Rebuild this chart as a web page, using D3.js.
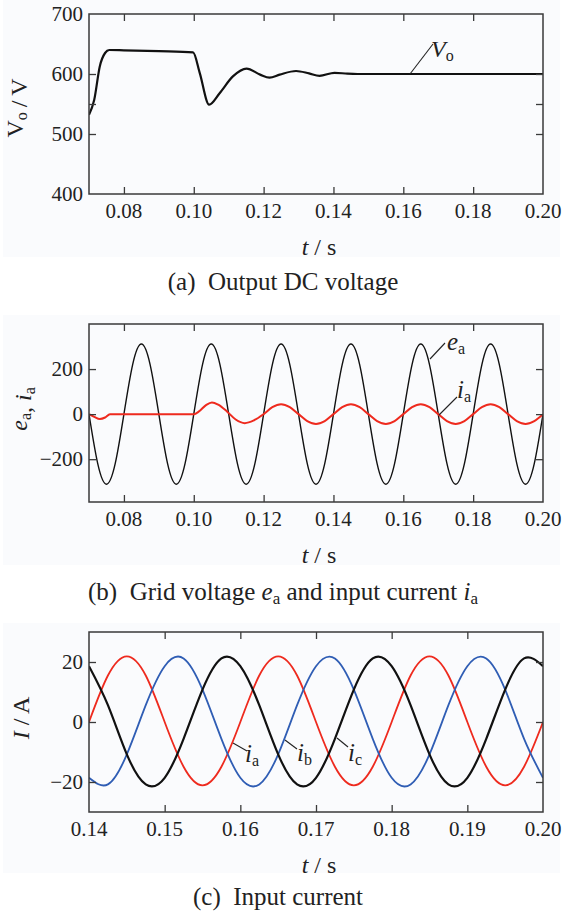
<!DOCTYPE html>
<html><head><meta charset="utf-8">
<script src="https://cdn.jsdelivr.net/npm/d3@7"></script>
<style>
body{margin:0;background:#fff}
svg{display:block}
</style>
</head><body>
<svg id="chart" width="563" height="913"></svg>
<script>
// ---------- Panel (a): output DC voltage ----------
const tVo = [0.0700,0.0715,0.0731,0.0746,0.0758,0.0800,0.0900,0.0998,0.1017,0.1044,0.1074,0.1112,0.1151,0.1190,0.1217,0.1246,0.1293,0.1330,0.1360,0.1403,0.1440,0.1469,0.1600,0.1800,0.2000];
const vo  = [532,557,613,635,640,639.5,638,636,602,549,568,596,609,599,594,599,605,601,597,602,600.5,600,600,600,600];
const xLabelsAB = [0.08,0.10,0.12,0.14,0.16,0.18,0.20];
const xMarksAB  = [0.08,0.10,0.12,0.14,0.16,0.18];
const yLabelsA = [400,500,600,700];
const yMarksA  = [500,550,600];

// ---------- Panel (b): grid voltage and input current ----------
const tE = [0.0700,0.0725,0.0750,0.0775,0.0800,0.0825,0.0850,0.0875,0.0900,0.0925,0.0950,0.0975,0.1000,0.1025,0.1050,0.1075,0.1100,0.1125,0.1150,0.1175,0.1200,0.1225,0.1250,0.1275,0.1300,0.1325,0.1350,0.1375,0.1400,0.1425,0.1450,0.1475,0.1500,0.1525,0.1550,0.1575,0.1600,0.1625,0.1650,0.1675,0.1700,0.1725,0.1750,0.1775,0.1800,0.1825,0.1850,0.1875,0.1900,0.1925,0.1950,0.1975,0.2000];
const eA = [0,-220,-311,-220,0,220,311,220,
            0,-220,-311,-220,0,220,311,220,
            0,-220,-311,-220,0,220,311,220,
            0,-220,-311,-220,0,220,311,220,
            0,-220,-311,-220,0,220,311,220,
            0,-220,-311,-220,0,220,311,220,
            0,-220,-311,-220,0];
const tIa = [0.0700,0.0715,0.0731,0.0746,0.0760,0.0800,0.0900,0.1000,0.1015,0.1035,0.1052,0.1070,0.1095,0.1120,0.1146,0.1172,
             0.1200,0.1225,0.1250,0.1275,0.1300,0.1325,0.1350,0.1375,0.1400,0.1425,0.1450,0.1475,0.1500,0.1525,0.1550,0.1575,
             0.1600,0.1625,0.1650,0.1675,0.1700,0.1725,0.1750,0.1775,0.1800,0.1825,0.1850,0.1875,0.1900,0.1925,0.1950,0.1975,0.2000];
const iA = [0,-12,-22,-15,0,0,0,0,12,40,52,42,12,-24,-40,-28,
            0,31,44,31,0,-31,-44,-31,0,31,44,31,0,-31,-44,-31,
            0,31,44,31,0,-31,-44,-31,0,31,44,31,0,-31,-44,-31,0];
const yLabelsB = [200,0,-200];
const yMarksB  = [200,0,-200];

// ---------- Panel (c): three-phase input current ----------
const tC = [0.1400,0.1425,0.1450,0.1475,0.1500,0.1525,0.1550,0.1575,0.1600,0.1625,0.1650,0.1675,0.1700,0.1725,0.1750,0.1775,0.1800,0.1825,0.1850,0.1875,0.1900,0.1925,0.1950,0.1975,0.2000];
const iaC = [0,15.5,21.9,15.5,0,-14.9,-21.1,-14.9,
             0,15.5,21.9,15.5,0,-14.9,-21.1,-14.9,
             0,15.5,21.9,15.5,0,-14.9,-21.1,-14.9,0];
const ibC = [-18.6,-20.8,-10.8,5.6,18.6,21.2,10.8,-5.6,
             -18.6,-20.8,-10.8,5.6,18.6,21.2,10.8,-5.6,
             -18.6,-20.8,-10.8,5.6,18.6,21.2,10.8,-5.6,-18.6];
const icC = [18.6,5.6,-10.8,-20.8,-18.6,-5.6,10.8,21.2,
             18.6,5.6,-10.8,-20.8,-18.6,-5.6,10.8,21.2,
             18.6,5.6,-10.8,-20.8,-18.6,-5.6,10.8,21.2,18.6];
const xLabelsC = [0.14,0.15,0.16,0.17,0.18,0.19,0.20];
const xMarksC  = [0.15,0.16,0.17,0.18,0.19];
const yLabelsC = [20,0,-20];
const yMarksC  = [20,0,-20];

const svg = d3.select("#chart");
const L = 89, R = 543;
const BG = "#fafbfd";
const FRAME = "#3a3a3a";
const FONT = "Liberation Serif";
const INK = "#222";
const fmtY = d => d < 0 ? "\u2212" + Math.abs(d) : String(d);

function panel(o){
  svg.append("rect").attr("x",3).attr("y",o.bgTop).attr("width",557).attr("height",o.bgBot-o.bgTop).attr("fill",BG);
  const x = d3.scaleLinear().domain(o.xd).range([L,R]);
  const y = d3.scaleLinear().domain(o.yd).range([o.bottom,o.top]);
  const g = svg.append("g");
  const id = "clip"+o.key;
  svg.append("clipPath").attr("id",id).append("rect").attr("x",L).attr("y",o.top).attr("width",R-L).attr("height",o.bottom-o.top);
  const lg = g.append("g").attr("clip-path",`url(#${id})`);
  o.series.forEach(s=>{
    const pts = s.t.map((t,i)=>[t,s.v[i]]);
    lg.append("path").datum(pts)
      .attr("d", d3.line().x(d=>x(d[0])).y(d=>y(d[1])).curve(s.curve))
      .attr("fill","none").attr("stroke",s.color).attr("stroke-width",s.w)
      .attr("stroke-linejoin","round");
  });
  const tl = 7;
  const axB = d3.axisBottom(x).tickValues(o.xMarks).tickSize(-tl).tickFormat("");
  const axT = d3.axisTop(x).tickValues(o.xMarks).tickSize(-tl).tickFormat("");
  const axL = d3.axisLeft(y).tickValues(o.yMarks).tickSize(-tl).tickFormat("");
  const axR = d3.axisRight(y).tickValues(o.yMarks).tickSize(-tl).tickFormat("");
  [[axB,`translate(0,${o.bottom})`],[axT,`translate(0,${o.top})`],[axL,`translate(${L},0)`],[axR,`translate(${R},0)`]].forEach(([ax,tr])=>{
    const a = g.append("g").attr("transform",tr).call(ax);
    a.select(".domain").remove();
    a.selectAll("line").attr("stroke",FRAME).attr("stroke-width",1.3);
  });
  g.append("rect").attr("x",L).attr("y",o.top).attr("width",R-L).attr("height",o.bottom-o.top)
    .attr("fill","none").attr("stroke",FRAME).attr("stroke-width",1.5);
  g.selectAll(null).data(o.xLabels).enter().append("text")
    .attr("x",d=>x(d)).attr("y",o.bottom+24).attr("text-anchor","middle")
    .attr("font-family",FONT).attr("font-size",21).attr("fill",INK).text(d=>d3.format(".2f")(d));
  g.selectAll(null).data(o.yLabels).enter().append("text")
    .attr("x",L-6).attr("y",d=>y(d)).attr("dy","0.34em").attr("text-anchor","end")
    .attr("font-family",FONT).attr("font-size",21).attr("fill",INK).text(fmtY);
  const xt = g.append("text").attr("x",(L+R)/2+3).attr("y",o.bottom+61).attr("text-anchor","middle")
    .attr("font-family",FONT).attr("font-size",24).attr("fill",INK);
  xt.append("tspan").attr("font-style","italic").text("t");
  xt.append("tspan").text(" / s");
  return {x,y,g};
}

function txt(x,y,size){
  return svg.append("text").attr("x",x).attr("y",y).attr("font-family",FONT).attr("font-size",size).attr("fill",INK);
}
function sub(textSel, main, subTxt, italic, mainSize, subSize){
  textSel.append("tspan").attr("font-style",italic?"italic":"normal").attr("font-size",mainSize).text(main);
  textSel.append("tspan").attr("font-style","normal").attr("font-size",subSize).attr("dy",4).text(subTxt);
  textSel.append("tspan").attr("font-size",mainSize).attr("dy",-4).text("");
}
function ytitle(cx,cy){
  return svg.append("text").attr("transform",`translate(${cx},${cy}) rotate(-90)`).attr("text-anchor","middle")
    .attr("font-family",FONT).attr("font-size",24).attr("fill",INK);
}

// ---- (a)
panel({key:"a",top:14,bottom:194,bgTop:0,bgBot:257,xd:[0.07,0.20],yd:[400,700],
  xMarks:xMarksAB,xLabels:xLabelsAB,yMarks:yMarksA,yLabels:yLabelsA,
  series:[{t:tVo,v:vo,color:"#111",w:2.2,curve:d3.curveMonotoneX}]});
{
  const t = ytitle(23,108);
  sub(t,"V","o",false,24,16);
  t.append("tspan").text("\u2009/\u2009V");
  svg.append("line").attr("x1",410).attr("y1",74).attr("x2",433).attr("y2",44).attr("stroke","#222").attr("stroke-width",1.1);
  sub(txt(431,57,24),"V","o",true,24,16);
}
txt(283,290,25).attr("text-anchor","middle").text("(a)\u00a0\u00a0Output DC voltage");

// ---- (b)
panel({key:"b",top:324,bottom:502,bgTop:315,bgBot:565,xd:[0.07,0.20],yd:[-390,400],
  xMarks:xMarksAB,xLabels:xLabelsAB,yMarks:yMarksB,yLabels:yLabelsB,
  series:[{t:tE,v:eA,color:"#111",w:1.4,curve:d3.curveNatural},
          {t:tIa,v:iA,color:"#ee2a1e",w:2,curve:d3.curveMonotoneX}]});
{
  const t = ytitle(27,409);
  sub(t,"e","a",true,24,16);
  t.append("tspan").text(", ");
  sub(t,"i","a",true,24,16);
  svg.append("line").attr("x1",430).attr("y1",359).attr("x2",445).attr("y2",343).attr("stroke","#222").attr("stroke-width",1.1);
  sub(txt(447,350,25),"e","a",true,25,16);
  svg.append("line").attr("x1",439).attr("y1",415).attr("x2",457).attr("y2",397).attr("stroke","#222").attr("stroke-width",1.1);
  sub(txt(457,398,25),"i","a",true,25,16);
}
{
  const c = txt(283,600,25).attr("text-anchor","middle");
  c.append("tspan").text("(b)\u00a0\u00a0Grid voltage ");
  c.append("tspan").attr("font-style","italic").text("e");
  c.append("tspan").attr("font-size",17).attr("dy",4).text("a");
  c.append("tspan").attr("dy",-4).text(" and input current ");
  c.append("tspan").attr("font-style","italic").text("i");
  c.append("tspan").attr("font-size",17).attr("dy",4).text("a");
}

// ---- (c)
panel({key:"c",top:632,bottom:812,bgTop:623,bgBot:873,xd:[0.14,0.20],yd:[-30,30],
  xMarks:xMarksC,xLabels:xLabelsC,yMarks:yMarksC,yLabels:yLabelsC,
  series:[{t:tC,v:iaC,color:"#ee2a1e",w:1.8,curve:d3.curveNatural},
          {t:tC,v:ibC,color:"#2f5db4",w:1.8,curve:d3.curveNatural},
          {t:tC,v:icC,color:"#111",w:2.2,curve:d3.curveNatural}]});
{
  const t = ytitle(29,718);
  t.append("tspan").attr("font-style","italic").text("I");
  t.append("tspan").text(" / A");
  const labs = [
    {x1:233,y1:743,x2:247,y2:751,tx:245,ty:762,s:"a"},
    {x1:285,y1:740,x2:297,y2:749,tx:297,ty:761,s:"b"},
    {x1:337,y1:738,x2:348,y2:747,tx:348,ty:761,s:"c"}];
  labs.forEach(d=>{
    svg.append("line").attr("x1",d.x1).attr("y1",d.y1).attr("x2",d.x2).attr("y2",d.y2).attr("stroke","#222").attr("stroke-width",1.1);
    sub(txt(d.tx,d.ty,25),"i",d.s,true,25,16);
  });
}
txt(278,905,25).attr("text-anchor","middle").text("(c)\u00a0\u00a0Input current");
</script>
</body></html>
